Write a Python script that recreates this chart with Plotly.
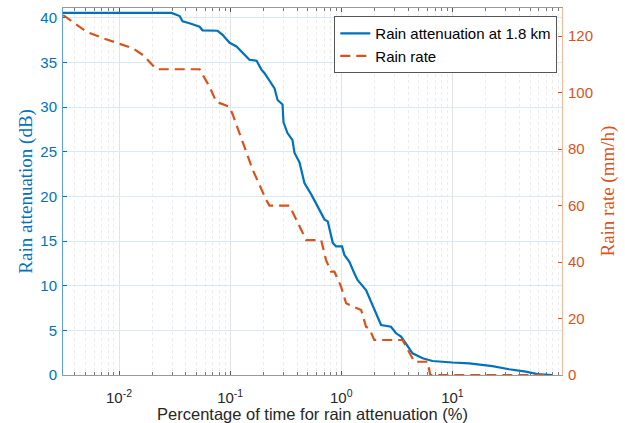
import plotly.graph_objects as go

# Exceedance curves: percentage of time (x) vs. rain attenuation / rain rate
att_pct = [0.00312, 0.0297, 0.0351, 0.0373, 0.0431, 0.0531, 0.0565, 0.0771, 0.0855,
           0.0989, 0.114, 0.135, 0.149, 0.173, 0.191, 0.204, 0.236, 0.251, 0.267,
           0.296, 0.302, 0.328, 0.364, 0.379, 0.421, 0.466, 0.538, 0.614, 0.708,
           0.756, 0.838, 0.898, 1.016, 1.066, 1.18, 1.31, 1.40, 1.67, 1.92, 2.28,
           2.80, 3.11, 3.45, 3.82, 4.38, 5.39, 6.62, 10.0, 14.2, 22.9, 32.4, 45.7,
           58.2, 78.8]
att_db = [40.55, 40.55, 40.2, 39.6, 39.4, 39.0, 38.6, 38.55, 38.1,
          37.2, 36.8, 35.9, 35.3, 35.2, 34.2, 33.8, 32.7, 32.1, 30.8,
          30.3, 28.3, 27.1, 26.3, 24.9, 23.8, 21.5, 20.2, 18.9, 17.4,
          17.2, 14.8, 14.4, 14.4, 13.45, 12.7, 11.4, 10.65, 9.5, 7.66, 5.6,
          5.4, 4.67, 4.3, 3.55, 2.43, 1.87, 1.57, 1.4, 1.3, 1.0, 0.64, 0.37,
          0.1, 0.0]

rate_pct = [0.00314, 0.00509, 0.00718, 0.01336, 0.01644, 0.02168, 0.0531, 0.0653,
            0.0750, 0.0989, 0.1058, 0.160, 0.211, 0.226, 0.342, 0.450, 0.483,
            0.659, 0.730, 0.809, 0.867, 0.995, 1.105, 1.51, 1.67, 1.79, 1.98,
            3.56, 4.09, 4.54, 5.98, 6.32, 66.8]
rate_mmh = [127.5, 121.6, 119.3, 115.7, 113.3, 108.3, 108.3, 102.1,
            96.8, 95.0, 92.1, 72.6, 62.0, 60.0, 60.0, 50.2, 47.8,
            47.8, 40.7, 36.6, 36.6, 31.3, 25.4, 23.0, 17.1, 16.4, 12.4,
            12.4, 7.7, 4.7, 4.7, 0.0, 0.0]

x_tickvals = [0.01, 0.1, 1, 10]
x_ticktext = ["10<sup>-2</sup>", "10<sup>-1</sup>", "10<sup>0</sup>", "10<sup>1</sup>"]
x_minor = [k * 10.0 ** e for e in range(-3, 2) for k in range(2, 10)]

BLUE = "#0072BD"
ORANGE = "#D95319"
FONT = "Liberation Sans"
SERIF = "Liberation Serif"

fig = go.Figure()
fig.add_trace(go.Scatter(
    x=att_pct, y=att_db, mode="lines", name="Rain attenuation at 1.8 km",
    line=dict(color=BLUE, width=2.2), yaxis="y"))
fig.add_trace(go.Scatter(
    x=rate_pct, y=rate_mmh, mode="lines", name="Rain rate",
    line=dict(color=ORANGE, width=2.2, dash="10px,6px"), yaxis="y2"))

fig.update_layout(
    width=625, height=423,
    margin=dict(l=63, r=63, t=8, b=48),
    paper_bgcolor="white", plot_bgcolor="white",
    font=dict(family=FONT, size=15, color="#262626"),
    showlegend=True,
    legend=dict(
        x=0.9906, y=0.978, xanchor="right", yanchor="top",
        bgcolor="white", bordercolor="#555555", borderwidth=1,
        font=dict(family=FONT, size=15, color="#000000"),
        tracegroupgap=0, itemwidth=30),
    xaxis=dict(
        type="log", range=[-2.504, 1.986], automargin=False,
        tickmode="array", tickvals=x_tickvals, ticktext=x_ticktext,
        ticks="inside", ticklen=4, tickcolor="#555555",
        showline=True, linecolor="#999999", linewidth=1, mirror="ticks",
        layer="below traces",
        showgrid=True, gridcolor="#e3e3e3", gridwidth=1,
        minor=dict(tickmode="array", tickvals=x_minor, ticks="inside", ticklen=3,
                   tickcolor="#777777", showgrid=True, gridcolor="#ececec",
                   griddash="dot", gridwidth=1),
        tickfont=dict(family=FONT, size=15, color="#262626"),
        ticklabelstandoff=9,
        title=dict(text="Percentage of time for rain attenuation (%)",
                   font=dict(family=FONT, size=16.5, color="#262626"), standoff=0),
        zeroline=False),
    yaxis=dict(
        range=[0, 41.1], tickmode="linear", tick0=0, dtick=5, automargin=False,
        ticks="inside", ticklen=4, tickcolor=BLUE,
        showline=True, linecolor="#5b9fd6", linewidth=1, layer="below traces",
        showgrid=True, gridcolor="#dbe9f5", gridwidth=1,
        tickfont=dict(family=FONT, size=15, color=BLUE),
        ticklabelstandoff=2,
        zeroline=False),
    yaxis2=dict(
        range=[0, 130], tickmode="linear", tick0=0, dtick=20, automargin=False,
        overlaying="y", side="right",
        ticks="inside", ticklen=4, tickcolor=ORANGE,
        showline=True, linecolor="#f0b99b", linewidth=1, layer="below traces",
        showgrid=False, zeroline=False,
        tickfont=dict(family=FONT, size=15, color=ORANGE),
        ticklabelstandoff=2),
    annotations=[
        dict(text="Rain attenuation (dB)", xref="paper", yref="paper",
             x=-0.0758, y=0.5, xanchor="center", yanchor="middle",
             textangle=-90, showarrow=False,
             font=dict(family=SERIF, size=19, color=BLUE)),
        dict(text="Rain rate (mm/h)", xref="paper", yref="paper",
             x=1.0902, y=0.5, xanchor="center", yanchor="middle",
             textangle=-90, showarrow=False,
             font=dict(family=SERIF, size=19, color=ORANGE)),
    ],
)

fig.write_html("out.html")
